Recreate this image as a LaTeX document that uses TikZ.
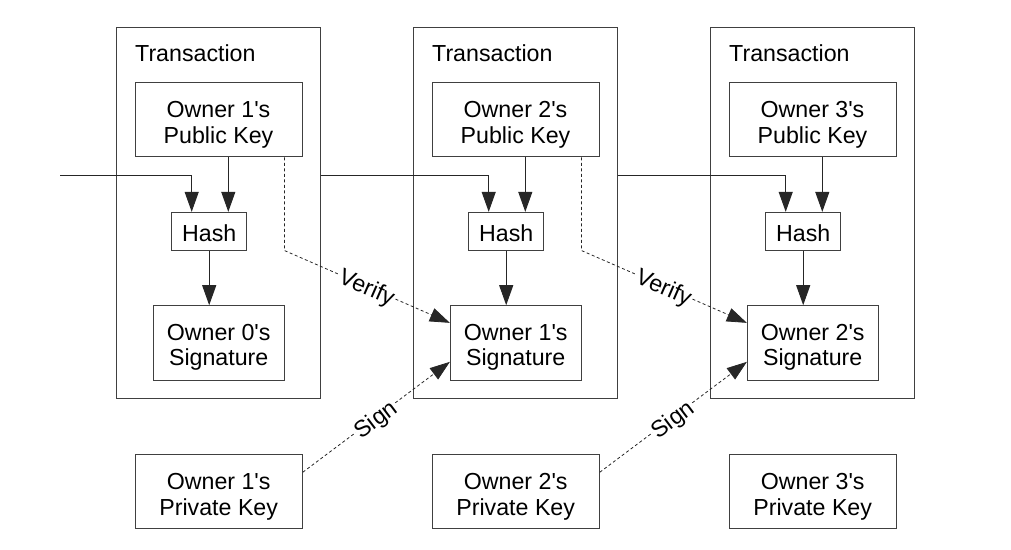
\documentclass[tikz,border=0pt]{standalone}
\usepackage{fontspec}
\setmainfont{Liberation Sans}
\usetikzlibrary{arrows.meta,calc}
\begin{document}
\begin{tikzpicture}[x=1pt,y=-1pt,
  box/.style={draw=black!75, line width=1pt, rectangle, inner sep=0pt},
  txt/.style={align=center, inner sep=0pt, font=\fontsize{23.2}{25.8}\selectfont},
  arr/.style={draw=black!85, line width=1pt, -{Triangle[length=20pt,width=14pt]}},
  dsh/.style={arr, dash pattern=on 3pt off 2.5pt, line width=0.8pt},
  lbl/.style={font=\fontsize{23.2}{26}\selectfont, sloped, fill=white, inner sep=1pt},
  ttl/.style={font=\fontsize{23.2}{26}\selectfont, inner sep=0pt, anchor=base west}
]
\useasboundingbox (0,0) rectangle (1011,549);
\foreach \i/\j/\dx in {1/0/0,2/1/297,3/2/594}{
  \node[box, minimum width=203.3pt, minimum height=370.7pt] (tx\i) at (218.35+\dx,212.65) {};
  \node[ttl] (tt\i) at (135+\dx,61) {Transaction};
  \node[box, minimum width=167pt, minimum height=74.5pt,
    label={[txt,yshift=-5pt]center:{Owner \i\textquotesingle s\\Public Key}}] (pk\i) at (218.5+\dx,119.5) {};
  \node[box, minimum width=75pt, minimum height=37.7pt,
    label={[txt,yshift=-2pt]center:{Hash}}] (h\i) at (209.2+\dx,231.2) {};
  \node[box, minimum width=130.7pt, minimum height=74.3pt,
    label={[txt,yshift=-4.5pt]center:{Owner \j\textquotesingle s\\Signature}}] (s\i) at (218.7+\dx,342.85) {};
  \node[box, minimum width=167.3pt, minimum height=74.3pt,
    label={[txt,yshift=-5.5pt]center:{Owner \i\textquotesingle s\\Private Key}}] (pv\i) at (218.7+\dx,491.2) {};
  \coordinate (pa\i) at ($(pk\i.south)+(9.8,0)$);
  \coordinate (ia\i) at ($(h\i.north)+(-17.5,0)$);
  \coordinate (va\i) at ($(pk\i.south)+(66,0)$);
  \draw[arr] (pa\i) -- (pa\i |- h\i.north);
  \draw[arr] (h\i.south) -- (h\i.south |- s\i.north);
}
\coordinate (in1) at (60,175);
\draw[arr] (in1) -| (ia1);
\draw[arr] (tx1.east |- in1) -| (ia2);
\draw[arr] (tx2.east |- in1) -| (ia3);
\foreach \i/\k in {1/2,2/3}{
  \draw[dsh] (va\i) -- (va\i |- h\i.south) -- node[lbl, yshift=-2pt] {Verify} ($(s\k.west)+(0,-20)$);
  \draw[dsh] ($(pv\i.east)+(0,-19)$) -- node[lbl, yshift=-3pt, xshift=-2pt] {Sign} ($(s\k.west)+(0,19)$);
}
\end{tikzpicture}
\end{document}
